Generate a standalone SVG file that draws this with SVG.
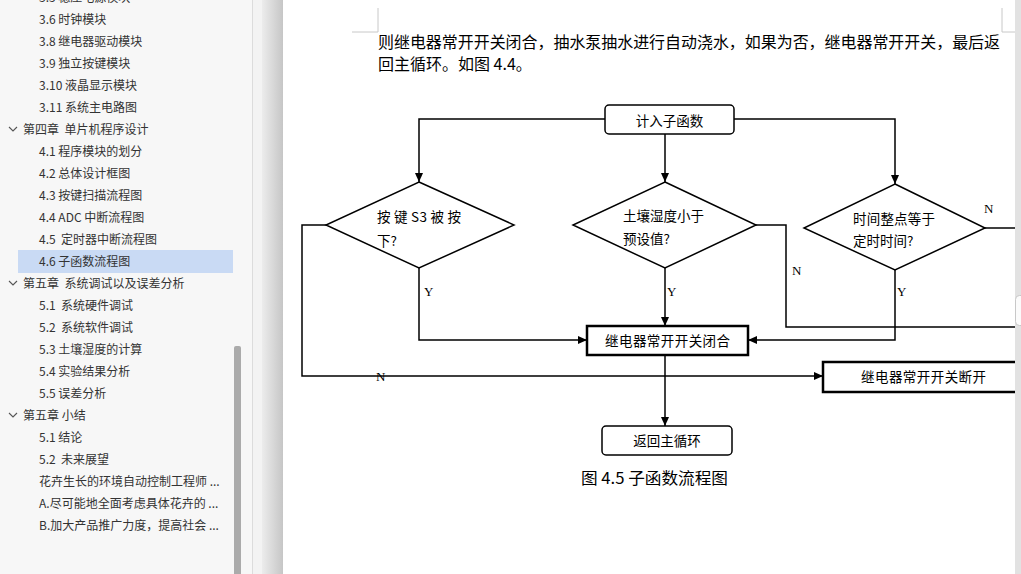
<svg xmlns="http://www.w3.org/2000/svg" width="1021" height="574" viewBox="0 0 1021 574">
<defs>
<linearGradient id="shade" x1="0" y1="0" x2="1" y2="0">
<stop offset="0" stop-color="#ececec"/>
<stop offset="1" stop-color="#c6c6c6"/>
</linearGradient>
<marker id="arr" markerUnits="userSpaceOnUse" markerWidth="9" markerHeight="8" refX="9" refY="4" orient="auto">
<path d="M0,0 L9,4 L0,8 z" fill="#000"/>
</marker>
<style>
.nav{font-family:"Noto Sans CJK SC","Noto Sans",sans-serif;font-size:12px;fill:#333}
.body{font-family:"Noto Sans CJK SC",sans-serif;font-size:16px;fill:#000}
.nt{font-family:"Noto Sans CJK SC",sans-serif;font-size:13.5px;fill:#000}
.lbl{font-family:"Liberation Serif",serif;font-size:13px;fill:#000}
.ln{fill:none;stroke:#000;stroke-width:1.5}
.rr{fill:#fff;stroke:#000;stroke-width:1.5}
.bx{fill:#fff;stroke:#000;stroke-width:2.5}
</style>
</defs>

<!-- sidebar -->
<g id="sidebar">
<rect x="0" y="0" width="252" height="574" fill="#f7f7f7"/>
<rect x="18" y="250" width="215" height="23" fill="#c9daf4"/>
<rect x="234" y="346" width="7" height="240" rx="2" fill="#ababab"/>
<rect x="252" y="0" width="10" height="574" fill="#f3f3f3"/>
<line x1="252.5" y1="0" x2="252.5" y2="574" stroke="#dcdcdc"/>
<rect x="262" y="0" width="21" height="574" fill="url(#shade)"/>
<path d="M9,127 L13,131 L17,127" fill="none" stroke="#555" stroke-width="1.1"/>
<path d="M9,281 L13,285 L17,281" fill="none" stroke="#555" stroke-width="1.1"/>
<path d="M9,413 L13,417 L17,413" fill="none" stroke="#555" stroke-width="1.1"/>
<text class="nav" x="39" y="2">3.5 稳压电源模块</text>
<text class="nav" x="39" y="24">3.6 时钟模块</text>
<text class="nav" x="39" y="46">3.8 继电器驱动模块</text>
<text class="nav" x="39" y="68">3.9 独立按键模块</text>
<text class="nav" x="39" y="90">3.10 液晶显示模块</text>
<text class="nav" x="39" y="112">3.11 系统主电路图</text>
<text class="nav" x="23" y="134" xml:space="preserve">第四章  单片机程序设计</text>
<text class="nav" x="39" y="156">4.1 程序模块的划分</text>
<text class="nav" x="39" y="178">4.2 总体设计框图</text>
<text class="nav" x="39" y="200">4.3 按键扫描流程图</text>
<text class="nav" x="39" y="222">4.4 ADC 中断流程图</text>
<text class="nav" x="39" y="244" xml:space="preserve">4.5  定时器中断流程图</text>
<text class="nav" x="39" y="266">4.6 子函数流程图</text>
<text class="nav" x="23" y="288" xml:space="preserve">第五章  系统调试以及误差分析</text>
<text class="nav" x="39" y="310" xml:space="preserve">5.1  系统硬件调试</text>
<text class="nav" x="39" y="332" xml:space="preserve">5.2  系统软件调试</text>
<text class="nav" x="39" y="354">5.3 土壤湿度的计算</text>
<text class="nav" x="39" y="376">5.4 实验结果分析</text>
<text class="nav" x="39" y="398">5.5 误差分析</text>
<text class="nav" x="23" y="420">第五章 小结</text>
<text class="nav" x="39" y="442">5.1 结论</text>
<text class="nav" x="39" y="464" xml:space="preserve">5.2  未来展望</text>
<text class="nav" x="39" y="486">花卉生长的环境自动控制工程师 ...</text>
<text class="nav" x="39" y="508">A.尽可能地全面考虑具体花卉的 ...</text>
<text class="nav" x="39" y="530">B.加大产品推广力度，提高社会 ...</text>
</g>

<!-- page -->
<g id="page">
<rect x="283" y="0" width="732" height="574" fill="#fff"/>
<path d="M378,8 V32 H352" fill="none" stroke="#c8c8c8"/>
<path d="M1002,8 V32 H1015" fill="none" stroke="#c8c8c8"/>
<text class="body" x="378" y="48" textLength="622" lengthAdjust="spacingAndGlyphs">则继电器常开开关闭合，抽水泵抽水进行自动浇水，如果为否，继电器常开开关，最后返</text>
<text class="body" x="378" y="70">回主循环。如图 4.4。</text>
<text class="body" x="581" y="484" textLength="147" lengthAdjust="spacingAndGlyphs">图 4.5 子函数流程图</text>
</g>

<!-- connectors -->
<g id="connectors">
<path class="ln" d="M605,119 H419 V182" marker-end="url(#arr)"/>
<path class="ln" d="M665,134 V182" marker-end="url(#arr)"/>
<path class="ln" d="M734,119 H895 V184" marker-end="url(#arr)"/>
<path class="ln" d="M419,268 V340 H587" marker-end="url(#arr)"/>
<path class="ln" d="M665,268 V326" marker-end="url(#arr)"/>
<path class="ln" d="M895,270 V340 H748" marker-end="url(#arr)"/>
<path class="ln" d="M756,225 H786 V327 H1016"/>
<path class="ln" d="M985,228 H1016"/>
<path class="ln" d="M326,225 H302 V376 H823" marker-end="url(#arr)"/>
<path class="ln" d="M665,355 V426" marker-end="url(#arr)"/>
<text class="lbl" x="424" y="296">Y</text>
<text class="lbl" x="667" y="296">Y</text>
<text class="lbl" x="897" y="296">Y</text>
<text class="lbl" x="792" y="275">N</text>
<text class="lbl" x="984" y="213">N</text>
<text class="lbl" x="376" y="381">N</text>
</g>

<!-- nodes -->
<g id="start">
<rect class="rr" x="605" y="105" width="129" height="29" rx="4"/>
<text class="nt" x="669.5" y="126" text-anchor="middle">计入子函数</text>
</g>
<g id="d1">
<polygon class="rr" points="419,182 514,225 419,268 326,225"/>
<text class="nt" x="377" y="222" textLength="84" lengthAdjust="spacing">按 键 S3 被 按</text>
<text class="nt" x="377" y="246">下?</text>
</g>
<g id="d2">
<polygon class="rr" points="665,182 756,225 665,268 573,225"/>
<text class="nt" x="623" y="221" textLength="81" lengthAdjust="spacing">土壤湿度小于</text>
<text class="nt" x="623" y="244">预设值?</text>
</g>
<g id="d3">
<polygon class="rr" points="895,184 985,228 895,270 804,228"/>
<text class="nt" x="853" y="224" textLength="82" lengthAdjust="spacing">时间整点等于</text>
<text class="nt" x="853" y="246">定时时间?</text>
</g>
<g id="close">
<rect class="bx" x="587" y="326" width="161" height="29"/>
<text class="nt" x="667.5" y="346" text-anchor="middle" textLength="125" lengthAdjust="spacing">继电器常开开关闭合</text>
</g>
<g id="open">
<rect class="bx" x="823" y="362" width="210" height="30"/>
<text class="nt" x="861" y="382" textLength="125" lengthAdjust="spacing">继电器常开开关断开</text>
</g>
<g id="ret">
<rect class="rr" x="602" y="426" width="130" height="29" rx="4"/>
<text class="nt" x="667" y="446" text-anchor="middle">返回主循环</text>
</g>

<!-- right scrollbar -->
<g id="rightbar">
<rect x="1015" y="0" width="6" height="574" fill="#e2e2e2"/>
<rect x="1015.5" y="295.5" width="10" height="30" rx="4" fill="#fbfbfb" stroke="#c8c8c8"/>
</g>
</svg>
